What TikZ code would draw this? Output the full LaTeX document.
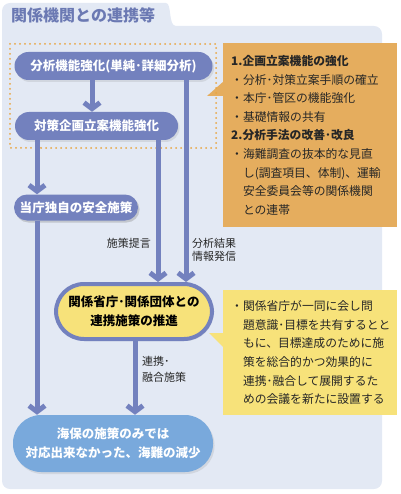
\documentclass[tikz,border=0pt]{standalone}
\usepackage{fontspec}
\setmainfont{Noto Sans CJK JP}
\usetikzlibrary{arrows.meta,shadows,calc}

\definecolor{panelbg}{HTML}{E3E9F4}
\definecolor{slate}{HTML}{7381BE}
\definecolor{skyblue}{HTML}{79A9DC}
\definecolor{notey}{HTML}{F7E27A}
\definecolor{noteo}{HTML}{E5AD5E}
\definecolor{dotorange}{HTML}{E9A640}
\definecolor{titleblue}{HTML}{6B79B3}

\tikzset{
    pill/.style={rounded corners=#1, inner sep=0pt, align=center,
        font=\bfseries\fontsize{12.5}{19}\selectfont,
        drop shadow={opacity=0.18, shadow xshift=1.5pt, shadow yshift=-2pt}},
    bluepill/.style={pill=14pt, fill=slate, text=white},
    flow/.style={line width=5pt, draw=slate, -{Straight Barb[length=6pt, width=16pt]}},
    lbl/.style={inner sep=0pt, align=left, text=black!85, font=\fontsize{11}{13}\selectfont},
    note/.style={inner ysep=0pt, inner xsep=8pt, text width=158pt, align=left,
        minimum width=174pt, anchor=north west, text=black!85,
        font=\fontsize{11.8}{18.6}\selectfont}
}

\begin{document}
\begin{tikzpicture}[x=1pt, y=-1pt]
    \useasboundingbox (0,0) rectangle (400,494);

    % Panel with tab
    \fill[panelbg, rounded corners=8pt] (2,489) -- (2,3) -- (158,3)
        .. controls (172,3) and (168,26) .. (184,26) -- (382,26) -- (382,489) -- cycle;
    \node[inner sep=0pt, anchor=west, text=titleblue, font=\bfseries\fontsize{16}{16}\selectfont]
        (title) at (11,15) {関係機関との連携等};

    % Left column
    \node[bluepill, minimum width=198pt, minimum height=28pt] (analysis) at (113.5,66)
        {分析機能強化(単純･詳細分析)};
    \node[bluepill, minimum width=163pt, minimum height=28pt] (planning) at (96.5,126)
        {対策企画立案機能強化};
    \node[bluepill, pill=13pt, minimum width=124pt, minimum height=26pt] (ownmeasure) at (76,207.5)
        {当庁独自の安全施策};
    \node[pill=28pt, fill=notey, draw=slate, line width=4pt, text=black,
        minimum width=156pt, minimum height=55pt] (cooperation) at (134,311.5)
        {関係省庁･関係団体との\\連携施策の推進};
    \node[pill=28pt, fill=skyblue, text=white, minimum width=200pt, minimum height=57pt]
        (reduction) at (113,443.5) {海保の施策のみでは\\対応出来なかった、海難の減少};

    % Callouts
    \node[note, fill=noteo, minimum height=184pt] (tasks) at (223,43)
        {\textbf{1.企画立案機能の強化}\\
        ・分析･対策立案手順の確立\\
        ・本庁･管区の機能強化\\
        ・基礎情報の共有\\
        \textbf{2.分析手法の改善･改良}\\
        ・海難調査の抜本的な見直\\
        \hspace*{1em}し(調査項目、体制)、運輸\\
        \hspace*{1em}安全委員会等の関係機関\\
        \hspace*{1em}との連帯};
    \fill[noteo] ($(tasks.north west)+(1,38)$) -- ($(tasks.north west)+(-16,53)$)
        -- ($(tasks.north west)+(1,53)$) -- cycle;

    \node[note, fill=notey, minimum height=125pt] (council) at (223,290)
        {・関係省庁が一同に会し問\\
        \hspace*{1em}題意識･目標を共有するとと\\
        \hspace*{1em}もに、目標達成のために施\\
        \hspace*{1em}策を総合的かつ効果的に\\
        \hspace*{1em}連携･融合して展開するた\\
        \hspace*{1em}めの会議を新たに設置する};
    \fill[notey] ($(council.north west)+(1,43)$) -- ($(council.north west)+(-14,43)$)
        -- ($(council.north west)+(1,58)$) -- cycle;

    % Dotted frame
    \draw[dotorange, line width=2pt, line cap=round, dash pattern=on 0pt off 5pt]
        (10,44) rectangle (216,148);

    % Arrows
    \coordinate (xa) at (92,0);
    \coordinate (xb) at (158,0);
    \coordinate (xc) at (186,0);
    \coordinate (xd) at (37,0);
    \coordinate (xe) at (135,0);
    \draw[flow] (analysis.south -| xa) -- (planning.north -| xa);
    \draw[flow] (analysis.south -| xc) -- (cooperation.north -| xc);
    \draw[flow] (planning.south -| xb) -- (cooperation.north -| xb);
    \draw[flow] (planning.south -| xd) -- (ownmeasure.north -| xd);
    \draw[flow] (ownmeasure.south -| xd) -- (reduction.north -| xd);
    \draw[flow] (cooperation.south -| xe) -- (reduction.north -| xe);

    % Arrow labels
    \node[lbl, anchor=east] (proposal) at (151,243) {施策提言};
    \node[lbl, anchor=west] (results) at (192,250) {分析結果\\情報発信};
    \node[lbl, anchor=west, font=\fontsize{11}{16}\selectfont] (merged) at (142,369) {連携･\\融合施策};

\end{tikzpicture}
\end{document}
